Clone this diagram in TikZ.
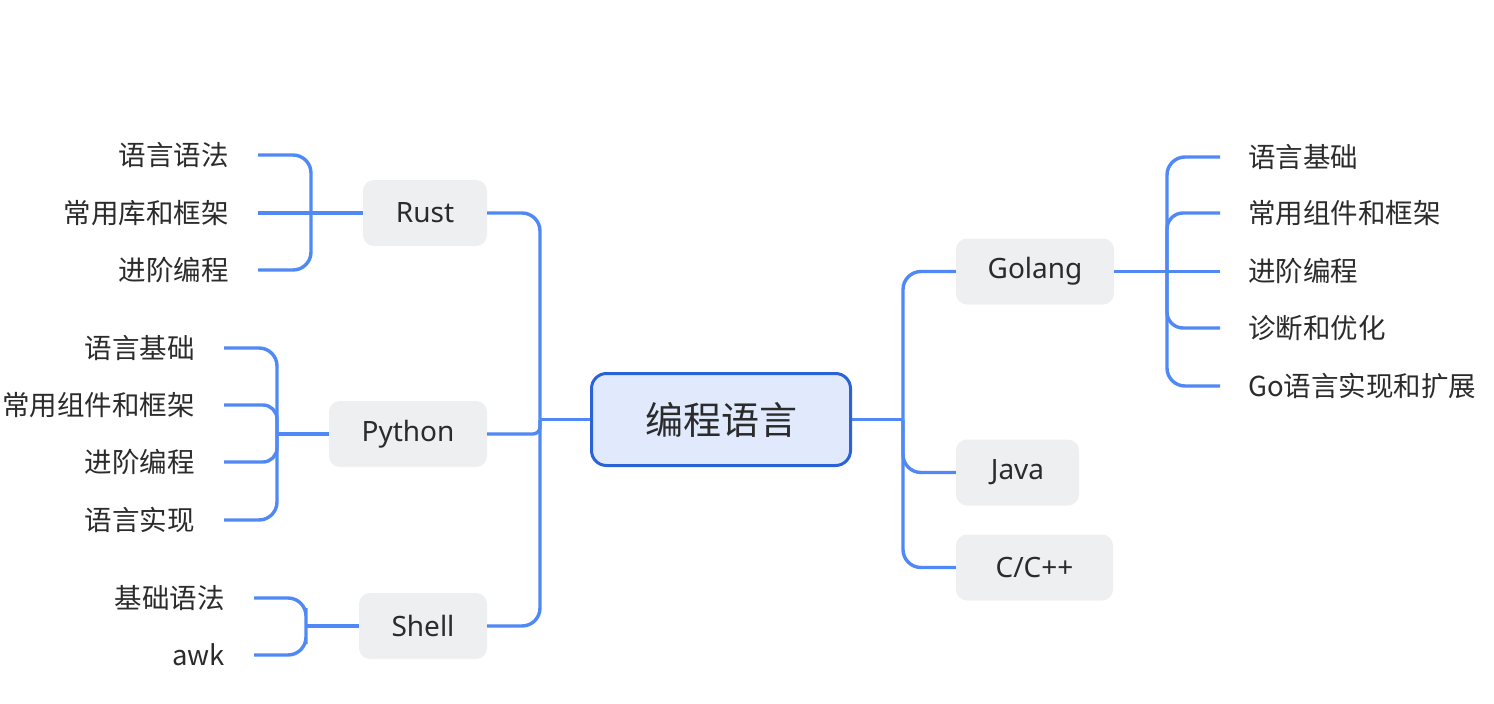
\documentclass[tikz,border=0pt]{standalone}
\usepackage{fontspec}
\setmainfont{Noto Sans CJK SC}
\newfontfamily\latinfont{Noto Sans}
\definecolor{linec}{HTML}{5089F5}
\definecolor{rootb}{HTML}{2B63D6}
\definecolor{rootf}{HTML}{E1EAFD}
\definecolor{boxf}{HTML}{EEEFF1}
\definecolor{txt}{HTML}{2B2B2B}
\tikzset{
  rootbox/.style={draw=rootb, line width=3pt, fill=rootf, rounded corners=15pt,
    minimum width=259pt, minimum height=92pt, inner sep=0pt, text=txt,
    font=\fontsize{38}{40}\selectfont},
  topic/.style={fill=boxf, rounded corners=11pt, minimum height=66pt, inner sep=0pt,
    text=txt, font=\latinfont\fontsize{28}{30}\selectfont},
  leafl/.style={anchor=east, inner sep=0pt, text=txt, font=\fontsize{27.5}{30}\selectfont},
  leafr/.style={anchor=west, inner sep=0pt, text=txt, font=\fontsize{27.5}{30}\selectfont},
  conn/.style={draw=linec, line width=3.4pt, rounded corners=18pt},
}
\begin{document}
\begin{tikzpicture}[x=1pt, y=-1pt]
\useasboundingbox (0,0) rectangle (1494,704);
% root
\node[rootbox] (root) at (721,419.5) {编程语言};
% topics
\node[topic, minimum width=124pt] (rust) at (425,213) {Rust};
\node[topic, minimum width=158pt] (python) at (408,434) {Python};
\node[topic, minimum width=128pt] (shell) at (423,626) {Shell};
\node[topic, minimum width=158pt] (golang) at (1035,271.5) {Golang};
\node[topic, minimum width=123pt] (java) at (1017.5,472.5) {Java};
\node[topic, minimum width=157pt] (cpp) at (1034.5,567.5) {C/C++};
% junctions
\coordinate (lj) at (540,419.5);
\coordinate (rj) at (903,419.5);
% Rust leaves
\node[leafl] (r1) at (229,155) {语言语法};
\node[leafl] (r2) at (229,213) {常用库和框架};
\node[leafl] (r3) at (229,270) {进阶编程};
% Python leaves
\node[leafl] (p1) at (195,348) {语言基础};
\node[leafl] (p2) at (195,405) {常用组件和框架};
\node[leafl] (p3) at (195,462) {进阶编程};
\node[leafl] (p4) at (195,520) {语言实现};
% Shell leaves
\node[leafl] (s1) at (225,598) {基础语法};
\node[leafl] (s2) at (225,655) {awk};
% Golang leaves
\node[leafr] (g1) at (1248,157) {语言基础};
\node[leafr] (g2) at (1248,213) {常用组件和框架};
\node[leafr] (g3) at (1248,271) {进阶编程};
\node[leafr] (g4) at (1248,328) {诊断和优化};
\node[leafr] (g5) at (1248,386) {Go语言实现和扩展};
% leaf line ends
\coordinate (r1e) at (258,155);
\coordinate (r2e) at (258,213);
\coordinate (r3e) at (258,270);
\coordinate (p1e) at (224,348);
\coordinate (p2e) at (224,405);
\coordinate (p3e) at (224,462);
\coordinate (p4e) at (224,520);
\coordinate (s1e) at (254,598);
\coordinate (s2e) at (254,655);
\coordinate (g1e) at (1220,157);
\coordinate (g2e) at (1220,213);
\coordinate (g3e) at (1220,271.5);
\coordinate (g4e) at (1220,328);
\coordinate (g5e) at (1220,386);
% main trunk left
\draw[conn] (root.west) -- (lj);
\draw[conn] (rust.east) -| (lj);
\draw[conn] (shell.east) -| (lj);
\draw[conn, rounded corners=7pt] (python.east) -| (lj);
% main trunk right
\draw[conn] (root.east) -- (rj);
\draw[conn] (golang.west) -| (rj);
\draw[conn] (java.west) -| (rj);
\draw[conn] (cpp.west) -| (rj);
% Rust bracket
\draw[conn] (r1e) -| (311,213) |- (r3e);
\draw[conn] (r2e) -- (rust.west);
% Python bracket
\draw[conn] (p1e) -| (277,434) |- (p4e);
\draw[conn, rounded corners=14pt] (p2e) -| (277,434);
\draw[conn, rounded corners=14pt] (p3e) -| (277,434);
\draw[conn] (277,434) -- (python.west);
% Shell bracket
\draw[conn] (s1e) -| (306,626) |- (s2e);
\draw[conn] (306,626) -- (shell.west);
% Golang bracket
\draw[conn] (g1e) -| (1167,271.5) |- (g5e);
\draw[conn, rounded corners=16pt] (g2e) -| (1167,271.5);
\draw[conn, rounded corners=16pt] (g4e) -| (1167,271.5);
\draw[conn] (golang.east) -- (g3e);
\end{tikzpicture}
\end{document}
